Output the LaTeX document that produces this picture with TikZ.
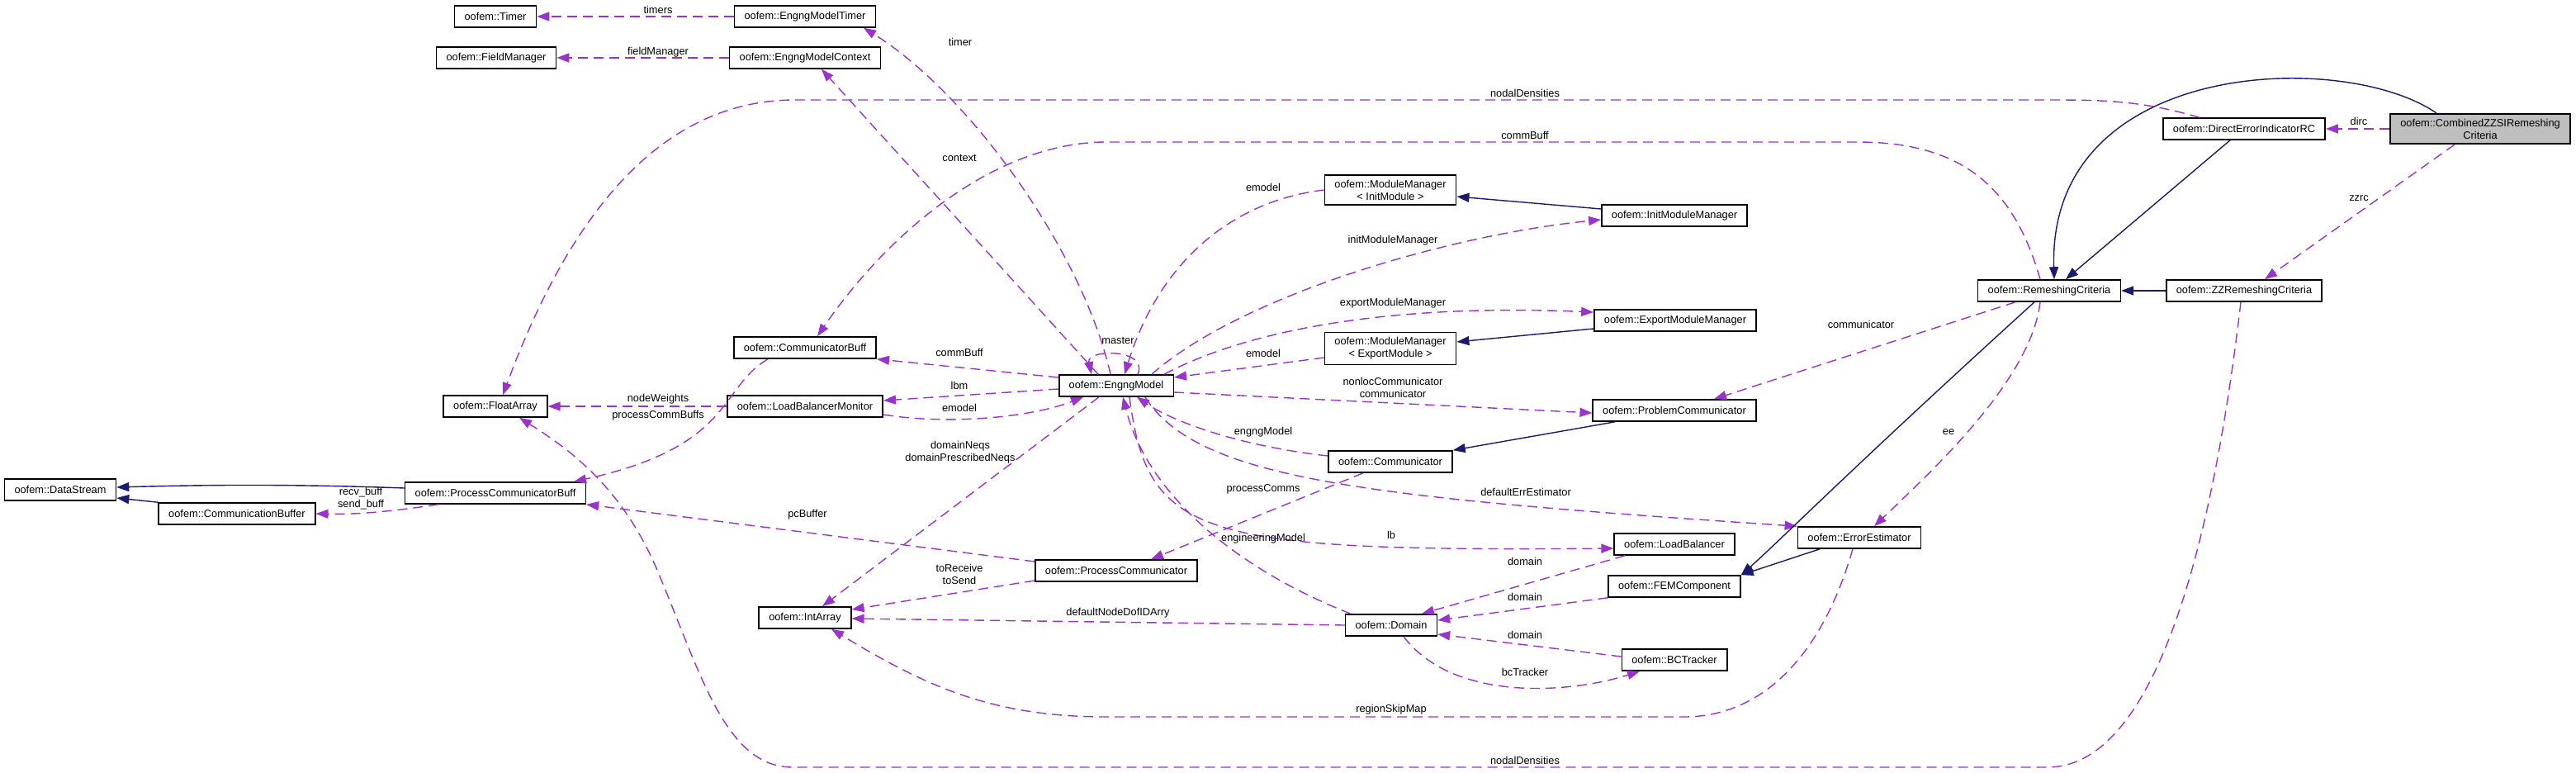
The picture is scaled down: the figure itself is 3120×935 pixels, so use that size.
\documentclass[tikz,border=0pt]{standalone}
\usepackage{fontspec}
\setmainfont{Liberation Sans}
\usetikzlibrary{arrows.meta}
\definecolor{usecol}{HTML}{9A32CD}
\definecolor{inhcol}{HTML}{191970}
\definecolor{mainfill}{HTML}{BFBFBF}
\tikzset{
  cls/.style={draw=black, fill=white, line width=1.6pt, minimum height=26pt,
    inner xsep=12pt, inner ysep=6pt, align=center, font=\fontsize{12.8}{15}\selectfont},
  usage/.style={draw=usecol, line width=1.4pt, dash pattern=on 12pt off 7pt,
    -{Triangle[length=15pt,width=11pt]}},
  inherit/.style={draw=inhcol, line width=1.4pt, -{Triangle[length=15pt,width=11pt]}},
  lbl/.style={font=\fontsize{12.8}{15}\selectfont, inner sep=0pt, align=center},
}
\begin{document}
\begin{tikzpicture}[x=1pt,y=-1pt]
   \useasboundingbox (0,0) rectangle (3120,935);

   \node[cls] (timer) at (600,20) {oofem::Timer};
   \node[cls] (fieldmgr) at (601,70) {oofem::FieldManager};
   \node[cls] (emtimer) at (975,20) {oofem::EngngModelTimer};
   \node[cls] (emcontext) at (975,70) {oofem::EngngModelContext};
   \node[cls] (floatarr) at (600,492) {oofem::FloatArray};
   \node[cls] (datastream) at (73,593) {oofem::DataStream};
   \node[cls] (commbuffer) at (287,622) {oofem::CommunicationBuffer};
   \node[cls] (pcbuff) at (600,597) {oofem::ProcessCommunicatorBuff};
   \node[cls] (commbuff) at (975,421) {oofem::CommunicatorBuff};
   \node[cls] (lbmon) at (975,492) {oofem::LoadBalancerMonitor};
   \node[cls] (intarr) at (975,748) {oofem::IntArray};
   \node[cls] (engng) at (1352,467) {oofem::EngngModel};
   \node[cls] (proccomm) at (1352,691) {oofem::ProcessCommunicator};
   \node[cls] (mminit) at (1684,230) {oofem::ModuleManager\\< InitModule >};
   \node[cls] (mmexport) at (1684,422) {oofem::ModuleManager\\< ExportModule >};
   \node[cls] (communicator) at (1684,559) {oofem::Communicator};
   \node[cls] (domain) at (1685,757) {oofem::Domain};
   \node[cls] (initmm) at (2028,261) {oofem::InitModuleManager};
   \node[cls] (exportmm) at (2029,388) {oofem::ExportModuleManager};
   \node[cls] (probcomm) at (2028,497) {oofem::ProblemCommunicator};
   \node[cls] (loadbal) at (2028,659) {oofem::LoadBalancer};
   \node[cls] (femcomp) at (2028,710) {oofem::FEMComponent};
   \node[cls] (bctracker) at (2028,799) {oofem::BCTracker};
   \node[cls] (errest) at (2252,651) {oofem::ErrorEstimator};
   \node[cls] (remesh) at (2482,352) {oofem::RemeshingCriteria};
   \node[cls] (zzremesh) at (2718,352) {oofem::ZZRemeshingCriteria};
   \node[cls] (direrr) at (2718,156) {oofem::DirectErrorIndicatorRC};
   \node[cls, fill=mainfill] (combined) at (3004,156) {oofem::CombinedZZSIRemeshing\\Criteria};

   % members
   \draw[usage] (emtimer.west) -- (timer.east) node[lbl] at (797,12) {timers};
   \draw[usage] (emcontext.west) -- (fieldmgr.east) node[lbl] at (797,63) {fieldManager};
   \draw[usage] ([xshift=-7pt]engng.north) .. controls (1310,300) and (1170,110) .. ([xshift=71pt]emtimer.south) node[lbl] at (1163,51) {timer};
   \draw[usage] ([xshift=-22pt]engng.north) -- ([xshift=20pt]emcontext.south) node[lbl] at (1162,191) {context};
   \draw[usage] ([xshift=26pt]engng.north) .. controls (1392,422) and (1315,422) .. ([xshift=-30pt]engng.north) node[lbl] at (1354,412) {master};
   \draw[usage] (mminit.west) .. controls (1480,245) and (1400,330) .. ([xshift=10pt]engng.north) node[lbl] at (1530,227) {emodel};
   \draw[usage] ([xshift=43pt]engng.north) .. controls (1500,360) and (1750,285) .. ([yshift=-5pt]initmm.west) node[lbl] at (1687,291) {initModuleManager};
   \draw[usage] ([xshift=58pt]engng.north) .. controls (1520,395) and (1700,368) .. ([yshift=10pt]exportmm.west) node[lbl] at (1687,367) {exportModuleManager};
   \draw[usage] ([yshift=-11pt]mmexport.west) -- ([yshift=10pt]engng.east) node[lbl] at (1530,428) {emodel};
   \draw[usage] ([yshift=10pt]engng.west) -- (commbuff.south east) node[lbl] at (1162,427) {commBuff};
   \draw[usage] ([yshift=-4pt]engng.west) -- ([yshift=7pt]lbmon.east) node[lbl] at (1162,467) {lbm};
   \draw[usage] ([yshift=-10pt]lbmon.east) .. controls (1150,515) and (1250,505) .. ([xshift=-40pt]engng.south) node[lbl] at (1162,494) {emodel};
   \draw[usage] ([xshift=-21pt]engng.south) -- ([xshift=21pt]intarr.north) node[lbl] at (1163,548) {domainNeqs\\domainPrescribedNeqs};
   \draw[usage] ([yshift=-8pt]engng.east) -- ([yshift=-3pt]probcomm.west) node[lbl] at (1687,469) {nonlocCommunicator\\communicator};
   \draw[usage] ([xshift=35pt]engng.south) .. controls (1450,580) and (1650,602) .. (errest.north west) node[lbl] at (1848,596) {defaultErrEstimator};
   \draw[usage] ([xshift=16pt]engng.south) .. controls (1390,650) and (1450,668) .. ([yshift=-5pt]loadbal.west) node[lbl] at (1685,648) {lb};
   \draw[usage] ([yshift=7pt]communicator.west) .. controls (1500,540) and (1420,510) .. ([xshift=25pt]engng.south) node[lbl] at (1530,523) {engngModel};
   \draw[usage] ([xshift=-49pt]domain.north) .. controls (1500,690) and (1390,600) .. ([xshift=8pt]engng.south) node[lbl] at (1530,652) {engineeringModel};
   \draw[usage] ([xshift=-33pt]communicator.south) -- ([xshift=42pt]proccomm.north) node[lbl] at (1530,592) {processComms};
   \draw[usage] ([yshift=11pt]proccomm.west) -- (pcbuff.south east) node[lbl] at (978,623) {pcBuffer};
   \draw[usage] ([yshift=-12pt]proccomm.west) -- ([yshift=10pt]intarr.east) node[lbl] at (1162,695) {toReceive\\toSend};
   \draw[usage] (domain.west) -- ([yshift=-1pt]intarr.east) node[lbl] at (1354,742) {defaultNodeDofIDArry};
   \draw[usage] ([xshift=15pt]domain.south) .. controls (1760,850) and (1900,840) .. ([xshift=-42pt]bctracker.south) node[lbl] at (1847,814) {bcTracker};
   \draw[usage] ([yshift=4pt]bctracker.west) -- ([yshift=-11pt]domain.east) node[lbl] at (1847,769) {domain};
   \draw[usage] (femcomp.south west) -- ([yshift=6pt]domain.east) node[lbl] at (1847,723) {domain};
   \draw[usage] ([xshift=-60pt]loadbal.south) -- ([xshift=37pt]domain.north) node[lbl] at (1847,680) {domain};
   \draw[usage] (combined.west) -- (direrr.east) node[lbl] at (2857,147) {dirc};
   \draw[usage] ([xshift=-31pt]combined.south) -- ([xshift=25pt]zzremesh.north) node[lbl] at (2857,240) {zzrc};
   \draw[usage] ([xshift=-54pt]direrr.north) .. controls (2600,124) and (2560,121) .. (2490,121) -- (963,121)
      .. controls (800,121) and (690,260) .. ([xshift=9pt]floatarr.north) node[lbl] at (1847,113) {nodalDensities};
   \draw[usage] ([xshift=-11pt]remesh.north) .. controls (2440,230) and (2380,172) .. (2250,172) -- (1340,172)
      .. controls (1200,172) and (1070,290) .. ([xshift=15pt]commbuff.north) node[lbl] at (1847,164) {commBuff};
   \draw[usage] ([xshift=-41pt]remesh.south) -- ([xshift=48pt]probcomm.north) node[lbl] at (2254,393) {communicator};
   \draw[usage] ([xshift=-11pt]remesh.south) .. controls (2460,460) and (2340,570) .. ([xshift=18pt]errest.north) node[lbl] at (2360,523) {ee};
   \draw[usage] ([xshift=-4pt]zzremesh.south) .. controls (2675,700) and (2600,929) .. (2480,929) -- (960,929)
      .. controls (880,929) and (850,820) .. (800,700) .. controls (760,600) and (700,550) .. ([xshift=29pt]floatarr.south)
      node[lbl] at (1847,921) {nodalDensities};
   \draw[usage] ([xshift=-8pt]errest.south) .. controls (2205,800) and (2130,868) .. (2040,868) -- (1340,868)
      .. controls (1200,868) and (1120,830) .. ([xshift=32pt]intarr.south) node[lbl] at (1685,859) {regionSkipMap};
   \draw[usage] (lbmon.west) -- (floatarr.east) node[lbl] at (797,483) {nodeWeights};
   \draw[usage] ([xshift=-45pt]commbuff.south) .. controls (870,470) and (890,540) .. ([xshift=95pt]pcbuff.north) node[lbl] at (797,503) {processCommBuffs};
   \draw[usage] ([xshift=-69pt]pcbuff.south) .. controls (470,620) and (430,623) .. (commbuffer.east) node[lbl] at (437,604) {recv\_buff\\send\_buff};

   % base classes
   \draw[inherit] ([yshift=8pt]initmm.west) -- ([yshift=-8pt]mminit.east);
   \draw[inherit] ([yshift=-10pt]exportmm.west) -- ([yshift=8pt]mmexport.east);
   \draw[inherit] ([xshift=-72pt]probcomm.south) -- (communicator.north east);
   \draw[inherit] ([yshift=6pt]pcbuff.west) .. controls (350,586) and (250,587) .. ([yshift=3pt]datastream.east);
   \draw[inherit] (commbuffer.north west) -- ([yshift=-10pt]datastream.east);
   \draw[inherit] (zzremesh.west) -- (remesh.east);
   \draw[inherit] ([xshift=-17pt]direrr.south) -- ([xshift=20pt]remesh.north);
   \draw[inherit] ([xshift=-53pt]combined.north) .. controls (2840,60) and (2480,70) .. ([xshift=6pt]remesh.north);
   \draw[inherit] ([xshift=-18pt]remesh.south) .. controls (2250,560) and (2150,660) .. (femcomp.north east);
   \draw[inherit] ([xshift=-48pt]errest.south) -- (femcomp.north east);
\end{tikzpicture}
\end{document}
